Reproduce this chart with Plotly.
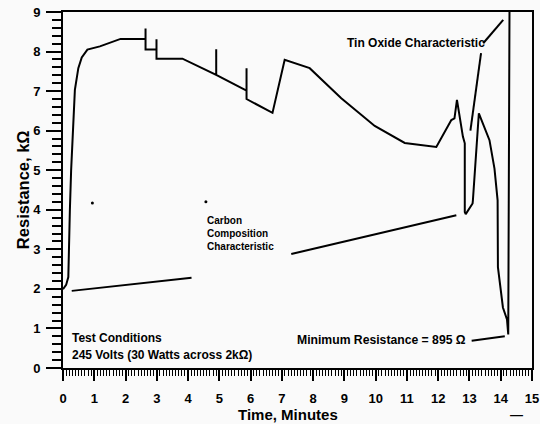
import plotly.graph_objects as go

# Resistance vs time (carbon composition / tin oxide test)
time_min = [0, 0.1, 0.17, 0.2, 0.22, 0.26, 0.31, 0.38, 0.49, 0.6, 0.78, 1.18, 1.84, 2.64,
            2.64, 2.64, 2.99, 2.99, 2.99, 3.82, 4.9, 4.9, 4.9, 5.87, 5.87, 5.87, 6.7,
            7.09, 7.89, 8.9, 9.97, 10.93, 11.94, 12.42, 12.52, 12.6, 12.79, 12.85, 12.85,
            12.88, 13.1, 13.11, 13.3, 13.64, 13.8, 13.9, 13.91, 14.07, 14.2, 14.24, 14.28]
resistance_k = [1.99, 2.1, 2.3, 3.0, 4.0, 5.0, 6.0, 7.03, 7.58, 7.85, 8.05, 8.13, 8.32, 8.32,
                8.58, 8.05, 8.05, 8.31, 7.82, 7.82, 7.41, 8.06, 7.41, 7.01, 7.58, 6.80, 6.45,
                7.79, 7.58, 6.82, 6.12, 5.69, 5.59, 6.27, 6.31, 6.78, 5.85, 5.68, 3.94,
                3.89, 4.16, 4.24, 6.44, 5.76, 5.04, 4.24, 2.55, 1.53, 1.23, 0.85, 9.0]

# leader lines (x0, y0, x1, y1)
leaders = [
    (0.28, 1.95, 4.11, 2.28),
    (7.3, 2.88, 12.58, 3.86),
    (13.03, 6.0, 13.37, 7.96),
    (13.44, 8.21, 14.08, 8.8),
    (13.07, 0.69, 14.13, 0.8),
]

x_range, y_range = [0, 15], [0, 9]
x_major, x_minor = 1, 0.1
y_major, y_minor = 1, 0.2

FONT = "Liberation Sans"

fig = go.Figure()

fig.add_trace(go.Scatter(x=time_min, y=resistance_k, mode="lines",
                         line=dict(color="black", width=2), hoverinfo="skip"))

for x0, y0, x1, y1 in leaders:
    fig.add_trace(go.Scatter(x=[x0, x1], y=[y0, y1], mode="lines",
                             line=dict(color="black", width=2), hoverinfo="skip"))

# scan specks
fig.add_trace(go.Scatter(x=[0.94, 4.57], y=[4.17, 4.2], mode="markers",
                         marker=dict(color="black", size=3), hoverinfo="skip"))

notes = [
    (9.02, 8.22, "Tin Oxide Characteristic", "left", 12),
    (4.54, 3.40, "Carbon<br>Composition<br>Characteristic", "left", 10),
    (0.22, 0.76, "Test Conditions", "left", 12),
    (0.22, 0.33, "245 Volts (30 Watts across 2kΩ)", "left", 12),
    (12.95, 0.72, "Minimum Resistance = 895 Ω", "right", 12.2),
]
for x, y, t, anc, sz in notes:
    fig.add_annotation(x=x, y=y, text=t, showarrow=False, xanchor=anc, yanchor="middle",
                       align="left",
                       font=dict(family=FONT, size=sz, color="black", weight="bold"))

fig.add_annotation(x=0.48, y=-0.13, xref="paper", yref="paper", text="Time, Minutes",
                   showarrow=False, yanchor="middle",
                   font=dict(family=FONT, size=15, color="black", weight="bold"))
fig.add_annotation(x=-0.085, y=0.5, xref="paper", yref="paper", text="Resistance, kΩ",
                   showarrow=False, textangle=-90, xanchor="center",
                   font=dict(family=FONT, size=16.5, color="black", weight="bold"))
fig.add_annotation(x=0.985, y=-0.13, xref="paper", yref="paper", text="—",
                   showarrow=False, yanchor="middle",
                   font=dict(family=FONT, size=13, color="black", weight="bold"))

tickfont = dict(family=FONT, size=13, color="black", weight="bold")
fig.update_layout(
    xaxis=dict(range=x_range, tick0=0, dtick=x_major, ticks="outside", ticklen=11,
               tickwidth=2, tickcolor="black", showline=True, linecolor="black",
               linewidth=2, mirror=True, showgrid=False, zeroline=False,
               automargin=False, tickfont=tickfont, ticklabelstandoff=6,
               minor=dict(dtick=x_minor, ticks="outside", ticklen=6, tickwidth=1,
                          tickcolor="black", showgrid=False)),
    yaxis=dict(range=y_range, tick0=0, dtick=y_major, ticks="outside", ticklen=15,
               tickwidth=2, tickcolor="black", showline=True, linecolor="black",
               linewidth=2, mirror=True, showgrid=False, zeroline=False,
               automargin=False, tickfont=tickfont, ticklabelstandoff=3,
               minor=dict(dtick=y_minor, ticks="outside", ticklen=9, tickwidth=2,
                          tickcolor="black", showgrid=False)),
    width=540, height=424, margin=dict(l=63, r=8, t=12, b=56),
    paper_bgcolor="#fafafa", plot_bgcolor="#fafafa", showlegend=False,
)

# drop the browser's default body margin so the figure sits at the page corner
fig.write_html("out.html", config={"displayModeBar": False},
               post_script="document.body.style.margin='0';")
